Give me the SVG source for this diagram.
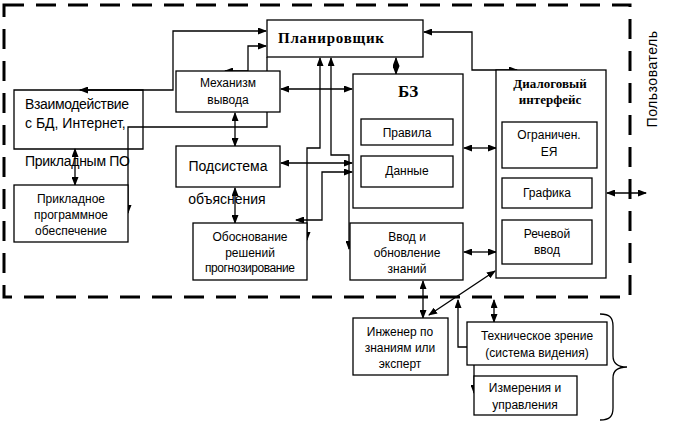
<svg xmlns="http://www.w3.org/2000/svg" width="682" height="423" viewBox="0 0 682 423">
<style>
.box{fill:#fff;stroke:#000;stroke-width:1.3}
.t{font-family:"Liberation Sans",Arial,sans-serif;font-size:12px;fill:#000;text-anchor:middle}
.tl{font-family:"Liberation Sans",Arial,sans-serif;font-size:14px;fill:#000}
.b{font-family:"Liberation Serif","Times New Roman",serif;font-weight:bold;fill:#000;text-anchor:middle}
.c{fill:none;stroke:#000;stroke-width:1.3}
.a{marker-start:url(#ar);marker-end:url(#ar)}
.e{marker-end:url(#ar)}
</style>
<defs>
<marker id="ar" markerUnits="userSpaceOnUse" markerWidth="9" markerHeight="7" refX="8" refY="3.5" orient="auto-start-reverse"><path d="M0,0 L9,3.5 L0,7 z" fill="#000"/></marker>
</defs>
<rect width="682" height="423" fill="#fff"/>
<rect x="4" y="5" width="626" height="292" fill="none" stroke="#000" stroke-width="3" stroke-dasharray="20 12"/>
<text class="tl" transform="translate(657,79) rotate(-90)" text-anchor="middle" font-size="15" letter-spacing="0.5">Пользователь</text>

<g id="connectors">
<path class="c a" d="M80,90 L173,90 L173,31 L266,31"/>
<path class="c a" d="M225,71 L248,71 L248,46 L266,46"/>
<path class="c a" d="M281,89 L352,89"/>
<path class="c a" d="M235,113 L235,146"/>
<path class="c a" d="M235,188 L235,223"/>
<path class="c a" d="M281,163 L352,163"/>
<path class="c a" d="M296,220 L322,220 L322,172 L352,172"/>
<path class="c a" d="M320,58 L320,148 L307,148 L307,240"/>
<path class="c a" d="M331,58 L331,155 L349,155 L349,249"/>
<path class="c e" d="M267,57 L267,127 L128,127 L128,213"/>
<path class="c a" d="M396,58 L396,74"/>
<path class="c a" d="M424,32 L472,32 L472,70 L517,70"/>
<path class="c a" d="M464,148 L496,148"/>
<path class="c a" d="M464,252 L496,252"/>
<path class="c a" d="M607,193 L646,193"/>
<path class="c a" d="M423,281 L423,318"/>
<path class="c a" d="M429,315 L495,271"/>
<path class="c a" d="M494,300 L494,322"/>
<path class="c a" d="M458,300 L458,347 L474,347 L474,393"/>
<path class="c a" d="M75,149 L75,185"/>
</g>

<g id="planner">
<rect class="box" x="267" y="20" width="156" height="37"/>
<text class="b" x="331" y="43" font-size="15" textLength="106">Планировщик</text>
</g>
<g id="interaction">
<path class="c" d="M14,90 L143,90 L143,149 L14,149 Z"/>
<text class="tl" x="25" y="109" textLength="104">Взаимодействие</text>
<text class="tl" x="25" y="128">с БД, Интернет,</text>
<text class="tl" x="25" y="166" textLength="105">Прикладным ПО</text>
</g>
<g id="mechanism">
<rect class="box" x="176" y="71" width="104" height="41"/>
<text class="t" x="228" y="87">Механизм</text>
<text class="t" x="228" y="104">вывода</text>
</g>
<g id="subsystem">
<rect class="box" x="176" y="146" width="104" height="41"/>
<text class="tl" x="228" y="171" text-anchor="middle">Подсистема</text>
<text class="tl" x="227" y="204" text-anchor="middle">объяснения</text>
</g>
<g id="justification">
<rect class="box" x="193" y="223" width="114" height="57"/>
<text class="t" x="250" y="241">Обоснование</text>
<text class="t" x="250" y="257">решений</text>
<text class="t" x="250" y="272" textLength="90">прогнозирование</text>
</g>
<g id="applied">
<rect class="box" x="14" y="185" width="114" height="57"/>
<text class="t" x="71" y="203">Прикладное</text>
<text class="t" x="71" y="219">программное</text>
<text class="t" x="71" y="235">обеспечение</text>
</g>
<g id="kb">
<rect class="box" x="353" y="74" width="110" height="134"/>
<text class="b" x="408" y="97" font-size="17">БЗ</text>
<rect class="box" x="361" y="119" width="92" height="26"/>
<text class="t" x="407" y="137">Правила</text>
<rect class="box" x="361" y="156" width="92" height="31"/>
<text class="t" x="407" y="175">Данные</text>
</g>
<g id="input">
<rect class="box" x="350" y="223" width="113" height="57"/>
<text class="t" x="407" y="241">Ввод и</text>
<text class="t" x="407" y="257">обновление</text>
<text class="t" x="407" y="273">знаний</text>
</g>
<g id="dialog">
<rect class="box" x="496" y="70" width="110" height="208"/>
<text class="b" x="550" y="88" font-size="13">Диалоговый</text>
<text class="b" x="550" y="104" font-size="13">интерфейс</text>
<rect class="box" x="502" y="122" width="95" height="46"/>
<text class="t" x="549" y="139">Ограничен.</text>
<text class="t" x="549" y="156">ЕЯ</text>
<rect class="box" x="502" y="178" width="90" height="30"/>
<text class="t" x="547" y="197">Графика</text>
<rect class="box" x="502" y="220" width="90" height="44"/>
<text class="t" x="547" y="238">Речевой</text>
<text class="t" x="547" y="254">ввод</text>
</g>
<g id="engineer">
<rect class="box" x="353" y="318" width="95" height="57"/>
<text class="t" x="400" y="336">Инженер по</text>
<text class="t" x="400" y="352">знаниям или</text>
<text class="t" x="400" y="368">эксперт</text>
</g>
<g id="vision">
<rect class="box" x="467" y="322" width="140" height="43"/>
<text class="t" x="537" y="340">Техническое зрение</text>
<text class="t" x="537" y="357">(система видения)</text>
</g>
<g id="measure">
<rect class="box" x="474" y="376" width="103" height="39"/>
<text class="t" x="525" y="392">Измерения и</text>
<text class="t" x="525" y="409">управления</text>
</g>
<path class="c" d="M600,314 C610,314 613,318 613,326 L613,356 C613,364 618,367 627,367 C618,367 613,370 613,378 L613,408 C613,416 610,420 600,420"/>
</svg>
